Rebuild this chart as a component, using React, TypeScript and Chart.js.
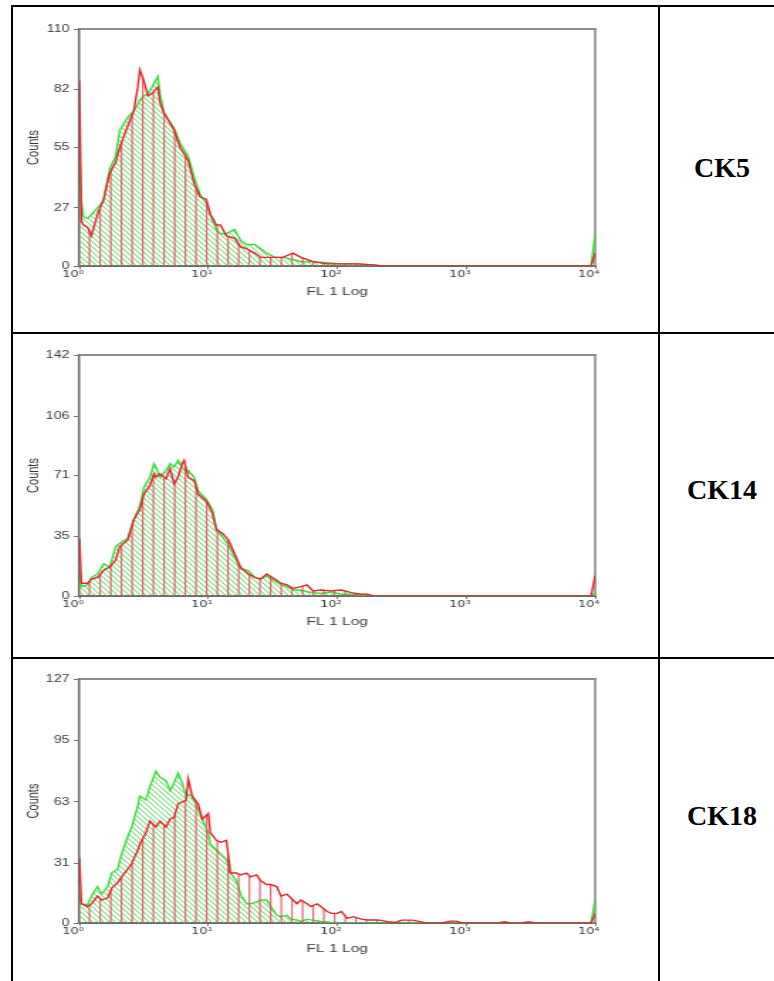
import React, { useEffect, useRef } from "react";
import { Chart, registerables } from "chart.js";

Chart.register(...registerables);

// ---------- data ----------
const xTickChannels = [0, 64, 128, 192, 256];
const xTickLabels = ["10⁰", "10¹", "10²", "10³", "10⁴"];

const ck5YTicks = [0, 27, 55, 82, 110];
const ck14YTicks = [0, 35, 71, 106, 142];
const ck18YTicks = [0, 31, 63, 95, 127];

const ck5Channels = [0, 1, 2, 4, 6, 9, 12, 15, 18, 20, 24, 27, 29, 30, 32, 34, 36, 39, 40, 42, 44, 47, 50, 54, 57, 60, 63, 65, 68, 70, 73, 77, 80, 83, 87, 90, 93, 97, 101, 106, 110, 116, 123, 130, 138, 146, 150, 254, 256];
const ck5Red = [86, 21, 19, 18, 14, 24, 31, 43, 48, 55, 65, 72, 83, 91, 86, 79, 80, 83, 76, 71, 68, 63, 55, 49, 38, 32, 31, 24, 19, 19, 14, 13, 9, 8, 6, 4, 4, 4, 4, 6, 4, 2, 1, 1, 1, 0.5, 0, 0, 6];
const ck5Green = [54, 30, 23, 22, 24, 27, 30, 45, 51, 63, 69, 72, 75, 77, 79, 80, 83, 88, 80, 71, 68, 64, 57, 51, 41, 33, 29, 24, 17, 15, 15, 17, 12, 10, 10, 8, 6, 4, 4, 3, 2, 2, 1.5, 1, 1, 0.5, 0, 0, 15];

const ck14Channels = [0, 1, 4, 6, 9, 12, 15, 18, 20, 24, 27, 30, 32, 35, 37, 38, 40, 43, 45, 47, 49, 51, 52, 54, 57, 59, 63, 66, 68, 71, 74, 77, 80, 84, 87, 90, 93, 97, 100, 103, 106, 110, 113, 116, 120, 125, 130, 135, 140, 143, 146, 254, 256];
const ck14Red = [34, 7.5, 7.5, 10, 11, 15, 17, 21, 29, 33, 45, 51, 60, 65, 72, 70, 72, 69, 75, 66, 70, 78, 80, 70, 68, 60, 56, 49, 39, 37, 33, 25, 17, 13, 11, 10, 13, 10, 7.5, 6.5, 4.5, 5.5, 6.5, 3, 3.5, 3, 3.5, 2, 1, 1, 0, 0, 12];
const ck14Green = [16, 5.5, 6.5, 11, 13, 19, 17, 29, 31, 34, 45, 53, 64, 70, 78, 76, 70, 74, 78, 76, 80, 76, 74, 74, 70, 62, 57, 51, 40, 35, 30, 23, 16, 15, 11, 10, 12, 9, 6.5, 5.5, 3.5, 3.5, 2.5, 2, 1.5, 2.5, 1, 1, 0.5, 0, 0, 0, 2];

const ck18Channels = [0, 1, 4, 6, 9, 11, 14, 16, 19, 21, 24, 26, 29, 30, 33, 35, 38, 40, 43, 45, 47, 49, 51, 53, 54, 56, 59, 61, 64, 65, 68, 70, 73, 75, 78, 80, 83, 85, 88, 90, 93, 95, 98, 100, 103, 105, 108, 110, 113, 115, 118, 120, 123, 125, 128, 130, 133, 136, 140, 143, 148, 153, 157, 160, 165, 168, 172, 180, 184, 187, 190, 208, 211, 214, 220, 223, 226, 254, 256];
const ck18Red = [34, 10, 8.5, 10, 14, 12, 13, 18, 21, 24, 28, 31, 38, 41, 47, 53, 50, 53, 50, 54, 55, 62, 63, 64, 75, 66, 62, 54, 57, 47, 43, 42, 43, 26, 26, 25, 26, 24, 25, 22, 20, 20, 19, 14, 15, 13, 10, 12, 10, 8.5, 10, 8.5, 6, 5, 5, 6, 2.4, 3.3, 2, 1.6, 1.6, 0.7, 0.3, 1.5, 1.5, 1, 0, 0, 1, 1, 0, 0, 0.6, 0, 0, 0.6, 0, 0, 5];
const ck18Green = [15, 10, 9.4, 14, 19, 15, 19, 26, 28, 36, 45, 50, 61, 66, 64, 71, 79, 76, 74, 69, 73, 78, 73, 66, 67, 66, 59, 54, 47, 41, 38, 36, 33, 26, 22, 15, 10, 10, 11, 12, 12, 8.5, 4, 3.3, 4, 2, 1.6, 0.7, 2, 1.6, 1.2, 0.8, 0.5, 0.3, 0, 0, 0, 0, 0, 0, 0, 0, 0, 0, 0, 0, 0, 0, 0, 0, 0, 0, 0, 0, 0, 0, 0, 0, 12];

// ---------- layout ----------
const S = 1.42; // horizontal stretch of the embedded plots
const CANVAS_LEFT = 14;
const Y_AXIS_W = 46;
const PLOT_W = 363;
const RIGHT_PAD = 14;
const WI = Y_AXIS_W + PLOT_W + RIGHT_PAD;
const TOP_PAD = 16;
const X_AXIS_H = 33;
const TEXT = "#3a3a3a";
const SANS = "'Liberation Sans', Arial, sans-serif";

function makeRedPattern(ctx: CanvasRenderingContext2D) {
  const c = document.createElement("canvas");
  c.width = 15;
  c.height = 4;
  const g = c.getContext("2d")!;
  g.fillStyle = "rgba(222,80,80,0.85)";
  g.fillRect(0, 0, 1.2, 4);
  g.fillRect(7.5, 0, 1.2, 4);
  return ctx.createPattern(c, "repeat")!;
}

function makeGreenPattern(ctx: CanvasRenderingContext2D) {
  const c = document.createElement("canvas");
  c.width = 4;
  c.height = 5;
  const g = c.getContext("2d")!;
  g.strokeStyle = "rgba(95,210,95,0.95)";
  g.lineWidth = 1;
  g.beginPath();
  for (const dx of [-4, 0, 4]) {
    g.moveTo(dx, 0);
    g.lineTo(dx + 4, 5);
  }
  g.stroke();
  return ctx.createPattern(c, "repeat")!;
}

const framePlugin = {
  id: "frame",
  beforeDatasetsDraw(chart: any) {
    const { ctx, chartArea: a } = chart;
    ctx.save();
    ctx.strokeStyle = "#8c8c8c";
    ctx.lineWidth = 2;
    ctx.beginPath();
    ctx.moveTo(a.left, a.top);
    ctx.lineTo(a.right + 1, a.top);
    ctx.stroke();
    ctx.lineWidth = 1.6;
    ctx.beginPath();
    ctx.moveTo(a.right, a.top);
    ctx.lineTo(a.right, a.bottom);
    ctx.stroke();
    ctx.restore();
  },
};

type HistProps = {
  channels: number[];
  red: number[];
  green: number[];
  yTicks: number[];
  plotTop: number;
  plotH: number;
};

function Histogram({ channels, red, green, yTicks, plotTop, plotH }: HistProps) {
  const ref = useRef<HTMLCanvasElement | null>(null);
  const H = TOP_PAD + plotH + X_AXIS_H;

  useEffect(() => {
    const canvas = ref.current!;
    const ctx = canvas.getContext("2d")!;
    const yMax = yTicks[yTicks.length - 1];
    const chart = new Chart(ctx, {
      type: "line",
      data: {
        datasets: [
          {
            label: "red",
            data: channels.map((c, i) => ({ x: c, y: red[i] })),
            borderColor: "#e3262c",
            borderWidth: 1.4,
            backgroundColor: makeRedPattern(ctx),
            fill: "origin",
            pointRadius: 0,
            tension: 0,
          },
          {
            label: "green",
            data: channels.map((c, i) => ({ x: c, y: green[i] })),
            borderColor: "#3ddc3d",
            borderWidth: 1.4,
            backgroundColor: makeGreenPattern(ctx),
            fill: "origin",
            pointRadius: 0,
            tension: 0,
          },
        ],
      },
      options: {
        animation: false,
        responsive: false,
        maintainAspectRatio: false,
        devicePixelRatio: 1,
        layout: { padding: { left: 0, right: RIGHT_PAD, top: TOP_PAD, bottom: 0 } },
        plugins: { legend: { display: false }, tooltip: { enabled: false } },
        scales: {
          x: {
            type: "linear",
            min: 0,
            max: 256,
            afterBuildTicks: (s: any) => {
              s.ticks = xTickChannels.map((v) => ({ value: v }));
            },
            afterFit: (s: any) => {
              s.height = X_AXIS_H;
            },
            grid: { drawOnChartArea: false, drawTicks: true, tickLength: 3, color: "#777" },
            border: { display: true, color: "#6b6b6b", width: 2 },
            ticks: {
              align: "end",
              labelOffset: 3,
              padding: 0,
              maxRotation: 0,
              autoSkip: false,
              color: TEXT,
              font: { family: "'DejaVu Sans', sans-serif", size: 9 },
              callback: (_v: any, i: number) => xTickLabels[i],
            },
            title: {
              display: true,
              text: "FL 1 Log",
              color: TEXT,
              font: { family: SANS, size: 11 },
              padding: { top: 0, bottom: 0 },
            },
          },
          y: {
            type: "linear",
            min: 0,
            max: yMax,
            afterBuildTicks: (s: any) => {
              s.ticks = yTicks.map((v) => ({ value: v }));
            },
            afterFit: (s: any) => {
              s.width = Y_AXIS_W;
            },
            grid: { drawOnChartArea: false, drawTicks: true, tickLength: 4, color: "#777" },
            border: { display: true, color: "#6b6b6b", width: 1.5 },
            ticks: { padding: 3, color: TEXT, font: { family: SANS, size: 10 }, autoSkip: false },
            title: {
              display: true,
              text: "Counts",
              color: TEXT,
              font: { family: SANS, size: 11 },
              padding: { top: 7, bottom: 0 },
            },
          },
        },
      } as any,
      plugins: [framePlugin],
    });
    return () => chart.destroy();
  }, [channels, red, green, yTicks, plotH]);

  return (
    <canvas
      ref={ref}
      width={WI}
      height={H}
      style={{
        position: "absolute",
        left: CANVAS_LEFT,
        top: plotTop - TOP_PAD,
        width: WI * S,
        height: H,
      }}
    />
  );
}

const line = (l: number, t: number, w: number, h: number) => (
  <div style={{ position: "absolute", left: l, top: t, width: w, height: h, background: "#000" }} />
);

const labelStyle = (cy: number): React.CSSProperties => ({
  position: "absolute",
  left: 660,
  width: 124,
  top: cy - 20,
  height: 40,
  lineHeight: "40px",
  textAlign: "center",
  fontFamily: "'Liberation Serif', 'Times New Roman', serif",
  fontWeight: "bold",
  fontSize: 28,
  color: "#000",
});

export default function App() {
  return (
    <div
      style={{
        position: "absolute",
        left: 0,
        top: 0,
        width: 774,
        height: 981,
        background: "#fff",
        overflow: "hidden",
      }}
    >
      {line(11, 5, 2, 976)}
      {line(11, 5, 763, 2)}
      {line(11, 332, 763, 2)}
      {line(11, 657, 763, 2)}
      {line(658, 5, 2, 976)}

      <Histogram channels={ck5Channels} red={ck5Red} green={ck5Green} yTicks={ck5YTicks} plotTop={29} plotH={237} />
      <Histogram channels={ck14Channels} red={ck14Red} green={ck14Green} yTicks={ck14YTicks} plotTop={355} plotH={241} />
      <Histogram channels={ck18Channels} red={ck18Red} green={ck18Green} yTicks={ck18YTicks} plotTop={679} plotH={244} />

      <div style={labelStyle(168)}>CK5</div>
      <div style={labelStyle(490)}>CK14</div>
      <div style={labelStyle(816)}>CK18</div>
    </div>
  );
}
